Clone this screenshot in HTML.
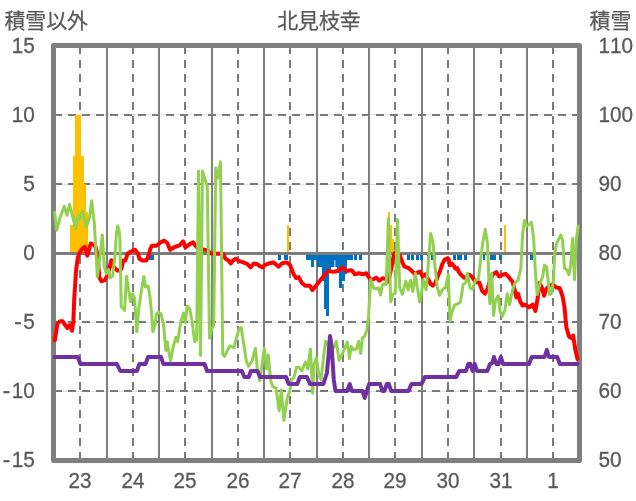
<!DOCTYPE html>
<html lang="ja">
<head>
<meta charset="utf-8">
<title>北見枝幸</title>
<style>
html,body{margin:0;padding:0;background:#fff;overflow:hidden}
svg{display:block}
text{font-family:"Liberation Sans",sans-serif;font-kerning:none;font-size:22.30px;fill:#595959}
</style>
</head>
<body>
<svg width="636" height="501" viewBox="0 0 636 501" style="will-change:transform">
<rect width="636" height="501" fill="#fff"/>
<g stroke="#e3e3e3" stroke-width="1"><line x1="53.5" y1="114.5" x2="579.5" y2="114.5"/><line x1="53.5" y1="184.5" x2="579.5" y2="184.5"/><line x1="53.5" y1="322.5" x2="579.5" y2="322.5"/><line x1="53.5" y1="391.5" x2="579.5" y2="391.5"/></g>
<g stroke="#7a7a7a" stroke-width="2" stroke-dasharray="8 6" fill="none"><line x1="54" y1="115" x2="579.5" y2="115"/><line x1="54" y1="184" x2="579.5" y2="184"/><line x1="54" y1="322" x2="579.5" y2="322"/><line x1="54" y1="391" x2="579.5" y2="391"/><line x1="80" y1="46" x2="80" y2="460.5"/><line x1="133" y1="46" x2="133" y2="460.5"/><line x1="185" y1="46" x2="185" y2="460.5"/><line x1="238" y1="46" x2="238" y2="460.5"/><line x1="290" y1="46" x2="290" y2="460.5"/><line x1="343" y1="46" x2="343" y2="460.5"/><line x1="395" y1="46" x2="395" y2="460.5"/><line x1="448" y1="46" x2="448" y2="460.5"/><line x1="501" y1="46" x2="501" y2="460.5"/><line x1="553" y1="46" x2="553" y2="460.5"/></g>
<g stroke="#7f7f7f" stroke-width="2"><line x1="107" y1="45.5" x2="107" y2="460.5"/><line x1="159" y1="45.5" x2="159" y2="460.5"/><line x1="212" y1="45.5" x2="212" y2="460.5"/><line x1="264" y1="45.5" x2="264" y2="460.5"/><line x1="317" y1="45.5" x2="317" y2="460.5"/><line x1="369" y1="45.5" x2="369" y2="460.5"/><line x1="422" y1="45.5" x2="422" y2="460.5"/><line x1="474" y1="45.5" x2="474" y2="460.5"/><line x1="527" y1="45.5" x2="527" y2="460.5"/></g>
<rect x="53.5" y="45.5" width="526.0" height="415.0" fill="none" stroke="#7f7f7f" stroke-width="5" stroke-linejoin="round"/>
<g fill="#ffc000" shape-rendering="crispEdges"><rect x="70.0" y="225.0" width="3.0" height="28.0"/><rect x="73.0" y="156.0" width="2.0" height="97.0"/><rect x="75.0" y="115.0" width="6.0" height="138.0"/><rect x="81.0" y="156.0" width="3.0" height="97.0"/><rect x="84.0" y="184.0" width="2.0" height="69.0"/><rect x="86.0" y="212.0" width="2.0" height="41.0"/><rect x="287.0" y="225.0" width="2.0" height="28.0"/><rect x="388.0" y="212.0" width="2.0" height="41.0"/><rect x="390.0" y="225.0" width="2.0" height="28.0"/><rect x="392.0" y="239.0" width="2.0" height="14.0"/><rect x="504.0" y="225.0" width="2.0" height="28.0"/></g>
<g fill="#0070c0" shape-rendering="crispEdges"><rect x="149.0" y="253.0" width="5.0" height="7.0"/><rect x="278.0" y="253.0" width="3.0" height="7.0"/><rect x="284.0" y="253.0" width="4.0" height="7.0"/><rect x="306.0" y="253.0" width="5.0" height="7.0"/><rect x="311.0" y="253.0" width="3.0" height="14.0"/><rect x="314.0" y="253.0" width="3.0" height="7.0"/><rect x="317.0" y="253.0" width="5.0" height="14.0"/><rect x="322.0" y="253.0" width="2.0" height="28.0"/><rect x="324.0" y="253.0" width="2.0" height="56.0"/><rect x="326.0" y="253.0" width="3.0" height="63.0"/><rect x="329.0" y="253.0" width="2.0" height="17.0"/><rect x="331.0" y="253.0" width="6.0" height="14.0"/><rect x="337.0" y="253.0" width="2.0" height="17.0"/><rect x="339.0" y="253.0" width="3.0" height="35.0"/><rect x="342.0" y="253.0" width="3.0" height="28.0"/><rect x="345.0" y="253.0" width="2.0" height="21.0"/><rect x="347.0" y="253.0" width="6.0" height="7.0"/><rect x="354.0" y="253.0" width="3.0" height="7.0"/><rect x="359.0" y="253.0" width="3.0" height="7.0"/><rect x="407.0" y="253.0" width="3.0" height="7.0"/><rect x="411.0" y="253.0" width="3.0" height="7.0"/><rect x="416.0" y="253.0" width="3.0" height="7.0"/><rect x="420.0" y="253.0" width="3.0" height="7.0"/><rect x="427.0" y="253.0" width="3.0" height="7.0"/><rect x="431.0" y="253.0" width="5.0" height="7.0"/><rect x="453.0" y="253.0" width="3.0" height="7.0"/><rect x="457.0" y="253.0" width="5.0" height="7.0"/><rect x="464.0" y="253.0" width="3.0" height="7.0"/><rect x="483.0" y="253.0" width="2.0" height="7.0"/><rect x="490.0" y="253.0" width="6.0" height="7.0"/><rect x="499.0" y="253.0" width="3.0" height="7.0"/><rect x="530.0" y="253.0" width="3.0" height="7.0"/></g>
<line x1="334.9" y1="260.2" x2="334.9" y2="267.2" stroke="#fff" stroke-opacity="0.85" stroke-width="1"/>
<line x1="53.5" y1="253.5" x2="579.5" y2="253.5" stroke="#7c7c7c" stroke-width="3"/>
<g fill="none" stroke-linejoin="round" stroke-linecap="round">
<polyline stroke="#ff0000" stroke-width="4" points="54.9,340.3 57.5,323.2 60.0,321.2 62.6,321.3 64.8,324.5 67.4,328.0 69.7,325.0 72.1,330.6 73.4,320.4 74.3,297.3 76.0,271.3 77.8,257.4 80.0,252.0 82.1,248.7 84.7,246.9 87.3,255.6 90.8,243.5 93.6,244.8 95.4,246.2 97.0,253.0 98.2,264.5 99.4,277.5 101.5,281.3 104.9,280.2 107.8,274.5 109.5,267.7 111.3,260.2 113.2,266.4 117.4,270.6 119.5,270.5 121.4,268.5 123.1,260.5 125.4,260.5 127.6,253.7 131.0,251.5 135.0,249.8 137.8,253.2 139.5,258.8 142.3,260.5 146.3,260.5 148.6,255.4 150.3,248.7 152.0,245.8 156.5,245.8 160.5,242.4 164.4,240.7 167.3,243.0 170.1,249.8 174.6,247.0 179.7,245.3 183.1,241.3 185.4,247.5 189.7,244.1 193.2,242.4 195.6,245.8 198.0,248.3 204.1,249.8 207.0,250.0 210.3,253.2 214.3,253.7 220.0,253.7 223.4,254.3 225.6,258.8 228.5,260.5 230.7,263.4 233.0,260.5 235.8,258.8 239.2,261.1 242.6,262.2 247.2,263.9 250.6,267.3 254.0,263.4 258.0,264.5 259.2,265.8 262.7,267.5 264.9,264.9 270.0,263.2 273.5,262.4 278.7,266.7 282.2,263.2 286.5,262.4 290.0,265.0 293.4,273.7 296.0,278.0 298.7,277.1 302.1,283.2 305.6,285.8 309.9,285.8 312.5,290.1 316.0,285.8 322.1,278.0 328.2,271.0 333.4,271.9 337.7,271.0 342.9,267.6 346.4,271.0 350.7,270.2 352.2,270.6 354.8,274.3 358.8,273.2 362.8,274.3 366.2,273.2 368.4,276.6 370.7,280.0 373.0,279.4 376.3,277.7 379.2,280.6 382.6,278.3 385.4,278.9 388.2,281.5 389.8,275.0 391.6,267.0 393.9,254.5 396.3,251.6 399.9,255.7 402.3,262.3 404.5,266.6 407.9,267.6 411.3,270.4 414.7,273.8 417.6,272.7 419.8,271.5 422.7,276.6 425.5,274.3 428.3,279.4 430.6,284.0 432.8,285.7 435.1,283.4 437.4,277.2 440.2,270.4 442.5,263.6 444.7,259.6 447.0,258.5 448.7,259.1 449.8,265.3 452.1,263.6 453.8,265.9 455.5,268.7 457.2,268.1 458.9,272.1 461.2,274.9 464.0,277.7 466.8,277.2 469.1,274.6 472.0,276.7 473.7,279.5 476.5,282.3 479.3,282.5 482.2,290.8 485.0,293.7 487.3,289.5 490.0,280.2 492.7,274.7 496.3,272.0 499.1,276.5 502.7,274.7 505.4,273.8 509.1,277.4 512.7,282.0 514.5,289.2 516.3,297.4 518.1,293.8 520.0,301.1 522.7,305.6 525.4,304.7 529.0,307.4 532.7,304.7 535.4,311.0 537.6,298.3 539.4,282.9 541.8,287.4 544.1,295.6 546.3,289.2 549.0,285.6 552.7,284.7 556.3,287.4 559.9,288.3 562.6,296.5 564.5,307.4 566.3,327.0 569.0,336.5 571.4,338.2 573.1,335.5 575.4,350.0 577.5,359.1"/>
<polyline stroke="#92d050" stroke-width="3" points="54.6,212.6 56.6,230.3 60.4,216.7 64.2,206.3 67.0,215.3 69.5,204.5 71.7,212.4 75.7,228.9 77.8,215.0 79.9,219.3 82.7,211.5 86.5,226.8 89.6,216.7 91.7,200.7 94.3,223.4 97.4,276.8 99.8,258.0 102.3,234.9 104.4,267.4 106.4,273.7 108.5,269.5 110.0,277.9 112.7,275.8 114.8,256.9 116.6,232.0 117.7,225.8 119.2,231.0 119.9,238.1 121.2,306.8 124.6,310.3 126.5,276.3 128.6,290.0 130.6,301.8 132.3,293.6 134.5,297.6 136.8,331.7 138.6,309.5 141.2,292.1 143.8,276.5 145.5,286.9 148.1,286.0 149.8,295.6 151.6,312.9 152.8,331.7 155.0,325.0 156.4,313.9 158.5,312.2 161.1,313.9 163.7,326.0 165.8,350.4 167.2,341.7 168.9,352.1 170.6,360.8 173.2,346.9 175.8,337.3 177.6,341.7 179.3,331.3 181.0,320.8 183.7,313.0 185.4,322.6 187.1,306.1 189.7,308.7 192.3,322.6 194.6,341.7 196.7,339.9 198.5,171.0 200.5,355.6 202.5,171.0 204.8,178.5 207.3,186.8 209.5,338.2 211.4,329.5 213.7,326.0 215.7,167.7 218.0,178.0 220.5,161.8 222.7,353.8 224.5,356.4 227.1,351.2 229.7,346.0 232.3,346.9 234.0,347.8 236.6,337.3 239.0,329.0 241.2,327.6 244.0,345.5 246.3,361.0 248.6,366.3 252.0,361.0 255.4,348.2 257.4,369.5 259.6,380.7 262.0,365.0 264.3,348.2 266.6,369.0 268.3,355.1 270.6,380.0 272.6,386.5 276.0,388.2 279.2,410.8 281.3,390.0 283.9,420.4 287.3,397.8 289.9,390.8 291.3,379.5 293.9,377.7 296.5,367.3 299.1,367.3 301.7,370.8 305.5,362.1 307.8,369.0 310.4,349.1 312.6,393.3 314.2,363.8 316.4,357.8 319.0,376.0 321.1,379.5 323.4,358.6 325.6,341.3 327.8,344.0 330.0,350.0 332.4,349.0 334.7,346.5 336.4,341.3 339.0,360.4 342.5,353.4 345.1,347.3 347.3,342.1 349.4,358.6 351.2,346.5 353.8,349.9 356.4,349.1 358.6,341.3 360.7,353.4 362.4,337.8 364.2,336.9 366.8,330.8 368.5,316.9 370.7,279.7 373.7,288.0 376.3,288.9 378.5,288.0 380.6,295.0 382.4,284.6 384.2,283.7 386.2,284.5 388.4,218.8 390.7,301.9 392.9,294.1 395.3,293.3 397.5,219.6 399.7,288.0 402.3,294.1 405.8,281.1 408.1,289.8 410.5,280.2 412.8,291.5 415.4,273.3 417.1,286.3 419.7,301.9 421.4,293.3 423.2,280.2 426.1,289.8 428.3,264.0 430.6,233.6 432.9,241.5 435.1,267.0 437.3,287.0 439.6,295.3 442.3,289.8 445.7,287.2 448.3,274.2 450.1,321.0 451.8,312.4 454.4,305.4 457.9,303.7 460.5,301.9 463.1,284.6 465.7,282.8 467.4,273.3 470.1,288.0 472.7,289.2 475.4,280.2 478.5,279.0 480.8,258.0 483.0,241.0 485.3,229.3 487.5,244.0 489.8,303.8 491.8,273.8 493.6,315.6 495.4,301.1 498.2,295.6 500.0,311.0 502.3,316.5 504.9,310.1 507.2,293.8 509.6,304.7 512.1,292.0 514.5,283.8 518.1,280.2 520.9,268.0 522.6,234.0 524.4,220.5 526.7,226.0 529.0,224.5 531.4,222.2 533.6,237.5 535.4,272.0 537.2,294.7 539.9,283.8 542.7,276.5 544.5,265.3 546.5,266.5 548.1,280.0 549.6,294.7 551.7,292.9 553.6,279.0 554.5,254.9 556.3,244.0 559.0,238.6 560.8,235.0 562.6,240.4 564.5,268.5 566.6,269.5 569.0,274.8 570.8,264.0 572.6,238.6 574.5,279.8 576.3,240.4 578.1,225.9"/>
<polyline stroke="#7030a0" stroke-width="4" points="54.6,357.0 77.8,357.0 80.4,364.0 116.9,364.0 120.3,371.0 136.8,371.0 139.4,364.0 145.5,364.0 148.1,357.0 161.1,357.0 163.3,364.0 204.5,364.0 207.1,371.0 241.8,371.0 244.4,377.0 248.8,377.0 250.9,371.0 257.4,371.0 260.1,377.0 286.0,377.0 288.7,384.0 297.3,384.0 299.9,377.0 306.9,377.0 310.0,384.0 323.4,384.0 326.9,373.0 328.6,355.0 330.0,336.0 331.5,345.0 333.8,380.0 335.5,391.0 347.1,391.0 349.8,384.0 352.0,391.0 362.5,391.0 364.7,398.0 369.1,384.0 380.1,384.0 382.3,391.0 384.5,391.0 386.7,384.0 388.9,384.0 391.1,391.0 408.4,391.0 411.5,384.0 421.4,384.0 424.9,377.0 456.2,377.0 459.3,371.0 466.0,371.0 468.2,364.0 470.4,364.0 472.6,371.0 474.8,364.0 477.0,371.0 487.3,371.0 490.0,364.0 492.2,363.0 494.0,357.0 496.3,364.0 498.5,364.0 500.9,357.0 503.1,364.0 529.0,364.0 531.8,357.0 544.5,357.0 546.8,350.0 549.0,357.0 557.2,357.0 559.9,364.0 577.3,364.0"/>
</g>
<g stroke="#595959" stroke-width="0.3">
<text transform="translate(34.70 53.00) scale(0.930 1)" text-anchor="end">15</text><text transform="translate(34.70 122.00) scale(0.930 1)" text-anchor="end">10</text><text transform="translate(34.70 191.00) scale(0.930 1)" text-anchor="end">5</text><text transform="translate(34.70 260.00) scale(0.930 1)" text-anchor="end">0</text><text transform="translate(21.87 329.00) scale(1.01 1)" text-anchor="end">-</text><text transform="translate(34.70 329.00) scale(0.930 1)" text-anchor="end">5</text><text transform="translate(10.34 398.00) scale(1.01 1)" text-anchor="end">-</text><text transform="translate(34.70 398.00) scale(0.930 1)" text-anchor="end">10</text><text transform="translate(10.34 467.00) scale(1.01 1)" text-anchor="end">-</text><text transform="translate(34.70 467.00) scale(0.930 1)" text-anchor="end">15</text>
<text transform="translate(598.40 53.00) scale(0.930 1)" text-anchor="start">110</text><text transform="translate(598.40 122.00) scale(0.930 1)" text-anchor="start">100</text><text transform="translate(598.40 191.00) scale(0.930 1)" text-anchor="start">90</text><text transform="translate(598.40 260.00) scale(0.930 1)" text-anchor="start">80</text><text transform="translate(598.40 329.00) scale(0.930 1)" text-anchor="start">70</text><text transform="translate(598.40 398.00) scale(0.930 1)" text-anchor="start">60</text><text transform="translate(598.40 467.00) scale(0.930 1)" text-anchor="start">50</text>
<text transform="translate(80.00 487.90) scale(0.930 1)" text-anchor="middle">23</text><text transform="translate(133.00 487.90) scale(0.930 1)" text-anchor="middle">24</text><text transform="translate(185.00 487.90) scale(0.930 1)" text-anchor="middle">25</text><text transform="translate(238.00 487.90) scale(0.930 1)" text-anchor="middle">26</text><text transform="translate(290.00 487.90) scale(0.930 1)" text-anchor="middle">27</text><text transform="translate(343.00 487.90) scale(0.930 1)" text-anchor="middle">28</text><text transform="translate(395.00 487.90) scale(0.930 1)" text-anchor="middle">29</text><text transform="translate(448.00 487.90) scale(0.930 1)" text-anchor="middle">30</text><text transform="translate(501.00 487.90) scale(0.930 1)" text-anchor="middle">31</text><text transform="translate(553.00 487.90) scale(0.930 1)" text-anchor="middle">1</text>
</g>
<text x="4.40" y="28.00" font-size="20.9" fill="#595959" stroke="#595959" stroke-width="0.25" style="font-family:'Liberation Sans','Noto Sans CJK JP',sans-serif;font-size:20.9px">積雪以外</text>
<text x="277.20" y="28.00" font-size="20.9" fill="#595959" stroke="#595959" stroke-width="0.25" style="font-family:'Liberation Sans','Noto Sans CJK JP',sans-serif;font-size:20.9px">北見枝幸</text>
<text x="589.50" y="28.00" font-size="20.9" fill="#595959" stroke="#595959" stroke-width="0.25" style="font-family:'Liberation Sans','Noto Sans CJK JP',sans-serif;font-size:20.9px">積雪</text>
</svg>
</body>
</html>
